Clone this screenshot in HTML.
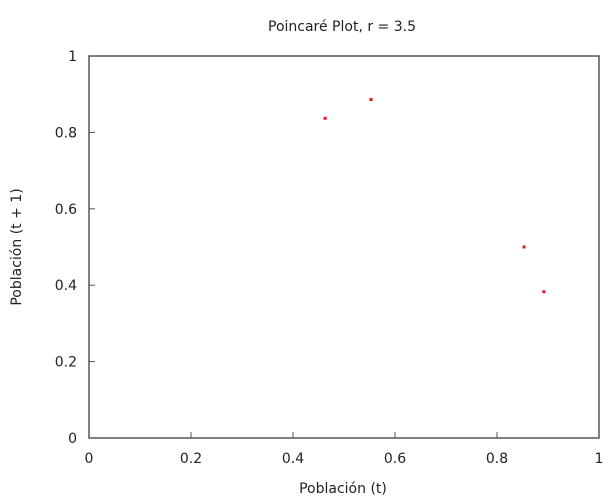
<!DOCTYPE html>
<html><head><meta charset="utf-8"><style>
body{margin:0;background:#fff;}
svg{display:block;font-family:"DejaVu Sans","Liberation Sans",sans-serif;}
</style></head><body>
<svg id="chart" width="614" height="497">
<rect x="0" y="0" width="614" height="497" fill="#fff"/>
<text x="342" y="31" font-size="14" text-anchor="middle" fill="#222">Poincaré Plot, r = 3.5</text>
<text x="343" y="493" font-size="14" text-anchor="middle" fill="#222">Población (t)</text>
<text transform="translate(21,247) rotate(-90)" font-size="14" text-anchor="middle" fill="#222">Población (t + 1)</text>
<g id="axes"></g>
<g id="points"></g>
<rect x="89" y="56" width="510" height="382" fill="none" stroke="#555" stroke-width="1.5"/>
</svg>
<script>
const xValues=[0.463,0.553,0.853,0.892];
const yValues=[0.837,0.886,0.500,0.383];
const xTicks=[0,0.2,0.4,0.6,0.8,1];
const yTicks=[0,0.2,0.4,0.6,0.8,1];
const xTickLabels=["0","0.2","0.4","0.6","0.8","1"];
const yTickLabels=["0","0.2","0.4","0.6","0.8","1"];
const L=89,R=599,T=56,B=438,NS="http://www.w3.org/2000/svg";
const sx=v=>L+v*(R-L), sy=v=>B-v*(B-T);
const axes=document.getElementById('axes'),pts=document.getElementById('points');
function mk(t,a,p){const e=document.createElementNS(NS,t);for(const k in a)e.setAttribute(k,a[k]);p.appendChild(e);return e;}
xTicks.forEach((v,i)=>{
 const t=mk('line',{x1:sx(v),x2:sx(v),y1:B,y2:B-6,stroke:'#555'},axes);
 
 
 const l=mk('text',{x:sx(v),y:B+25,'font-size':14,'text-anchor':'middle',fill:'#222'},axes);
 l.textContent=xTickLabels[i];
 
 
});
yTicks.forEach((v,i)=>{
 const t=mk('line',{x1:L,x2:L+6,y1:sy(v),y2:sy(v),stroke:'#555'},axes);
 
 
 const l=mk('text',{x:L-12,y:sy(v)+5,'font-size':14,'text-anchor':'end',fill:'#222'},axes);
 l.textContent=yTickLabels[i];
 
 
});
xValues.forEach((v,i)=>{
 const c=mk('rect',{x:sx(v)-1.5,y:sy(yValues[i])-1.5,width:3,height:3,fill:'#e8141e'},pts);
 
 
});
</script>
</body></html>
